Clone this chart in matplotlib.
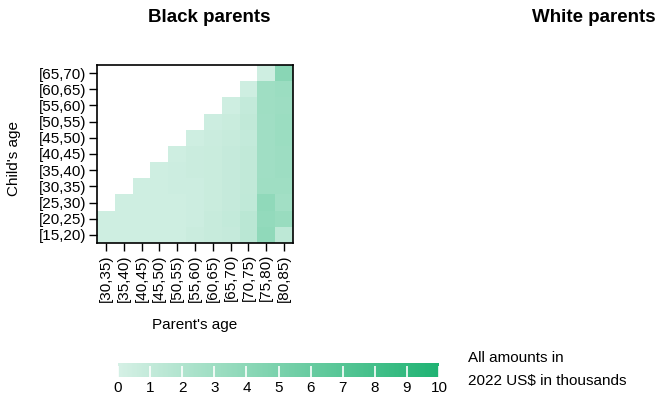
import numpy as np
import matplotlib
matplotlib.use("Agg")
import matplotlib.pyplot as plt
from matplotlib.colors import LinearSegmentedColormap

plt.rcParams["font.family"] = ["Liberation Sans", "DejaVu Sans"]

child_ages = ["[15,20)", "[20,25)", "[25,30)", "[30,35)", "[35,40)", "[40,45)",
              "[45,50)", "[50,55)", "[55,60)", "[60,65)", "[65,70)"]
parent_ages = ["[30,35)", "[35,40)", "[40,45)", "[45,50)", "[50,55)", "[55,60)",
               "[60,65)", "[65,70)", "[70,75)", "[75,80)", "[80,85)"]

nan = np.nan
# transfers (thousands of 2022 US$), rows = child's age, cols = parent's age
amounts = [
    [0.4, 0.4, 0.4, 0.4, 0.4, 0.6, 0.8, 0.9, 1.5, 3.8, 1.3],
    [0.4, 0.4, 0.4, 0.4, 0.4, 0.5, 0.8, 1.0, 1.5, 3.6, 3.3],
    [nan, 0.4, 0.4, 0.4, 0.4, 0.5, 0.7, 0.9, 1.2, 3.8, 2.8],
    [nan, nan, 0.4, 0.4, 0.5, 0.5, 0.7, 0.9, 1.1, 3.0, 3.0],
    [nan, nan, nan, 0.4, 0.5, 0.6, 0.7, 0.9, 1.1, 2.9, 3.1],
    [nan, nan, nan, nan, 0.4, 0.6, 0.7, 0.9, 1.1, 2.9, 3.1],
    [nan, nan, nan, nan, nan, 0.4, 0.6, 0.8, 1.0, 2.9, 3.2],
    [nan, nan, nan, nan, nan, nan, 0.5, 0.7, 1.1, 2.9, 3.2],
    [nan, nan, nan, nan, nan, nan, nan, 0.4, 1.0, 3.0, 3.1],
    [nan, nan, nan, nan, nan, nan, nan, nan, 0.4, 3.0, 3.2],
    [nan, nan, nan, nan, nan, nan, nan, nan, nan, 0.4, 4.2],
]
cbar_ticks = [0, 1, 2, 3, 4, 5, 6, 7, 8, 9, 10]

cmap = LinearSegmentedColormap.from_list("greens", ["#d5f0e5", "#1fb373"])
cmap.set_bad("white")

fig = plt.figure(figsize=(6.6, 3.95), dpi=100)
W, H = 660, 395
FS = 11

def box(x0, y0, x1, y1):
    return [x0 / W, 1 - y1 / H, (x1 - x0) / W, (y1 - y0) / H]

ax = fig.add_axes(box(97, 65, 293, 243))
data = np.ma.masked_invalid(np.array(amounts))
mesh = ax.pcolormesh(np.arange(len(parent_ages) + 1), np.arange(len(child_ages) + 1),
                     data, cmap=cmap, vmin=0, vmax=10)
ax.set_xlim(0, len(parent_ages))
ax.set_ylim(0, len(child_ages))
ax.set_xticks(np.arange(len(parent_ages)) + 0.5)
ax.set_xticklabels(parent_ages, rotation=90, fontsize=FS)
ax.set_yticks(np.arange(len(child_ages)) + 0.5)
ax.set_yticklabels(child_ages, fontsize=FS)
ax.tick_params(length=6, width=1, pad=2)
for s in ax.spines.values():
    s.set_linewidth(1.2)

fig.text(195 / W, 1 - 325 / H, "Parent's age", ha="center", va="center", fontsize=FS)
fig.text(14 / W, 1 - 158 / H, "Child's age", ha="center", va="center",
         rotation=90, fontsize=FS)

fig.text(209 / W, 1 - 18 / H, "Black parents", ha="center", va="center",
         fontsize=13.5, fontweight="bold")
fig.text(594 / W, 1 - 18 / H, "White parents", ha="center", va="center",
         fontsize=13.5, fontweight="bold")

cax = fig.add_axes(box(118, 363, 439, 377))
cb = fig.colorbar(mesh, cax=cax, orientation="horizontal", ticks=cbar_ticks)
cb.outline.set_visible(False)
cax.tick_params(direction="in", colors="white", length=8, width=1.2, labelsize=FS,
                labelcolor="black", pad=3)

fig.text(468 / W, 1 - 358 / H, "All amounts in", ha="left", va="center", fontsize=FS)
fig.text(468 / W, 1 - 381 / H, "2022 US$ in thousands", ha="left", va="center", fontsize=FS)

fig.savefig("out.png", dpi=100)
